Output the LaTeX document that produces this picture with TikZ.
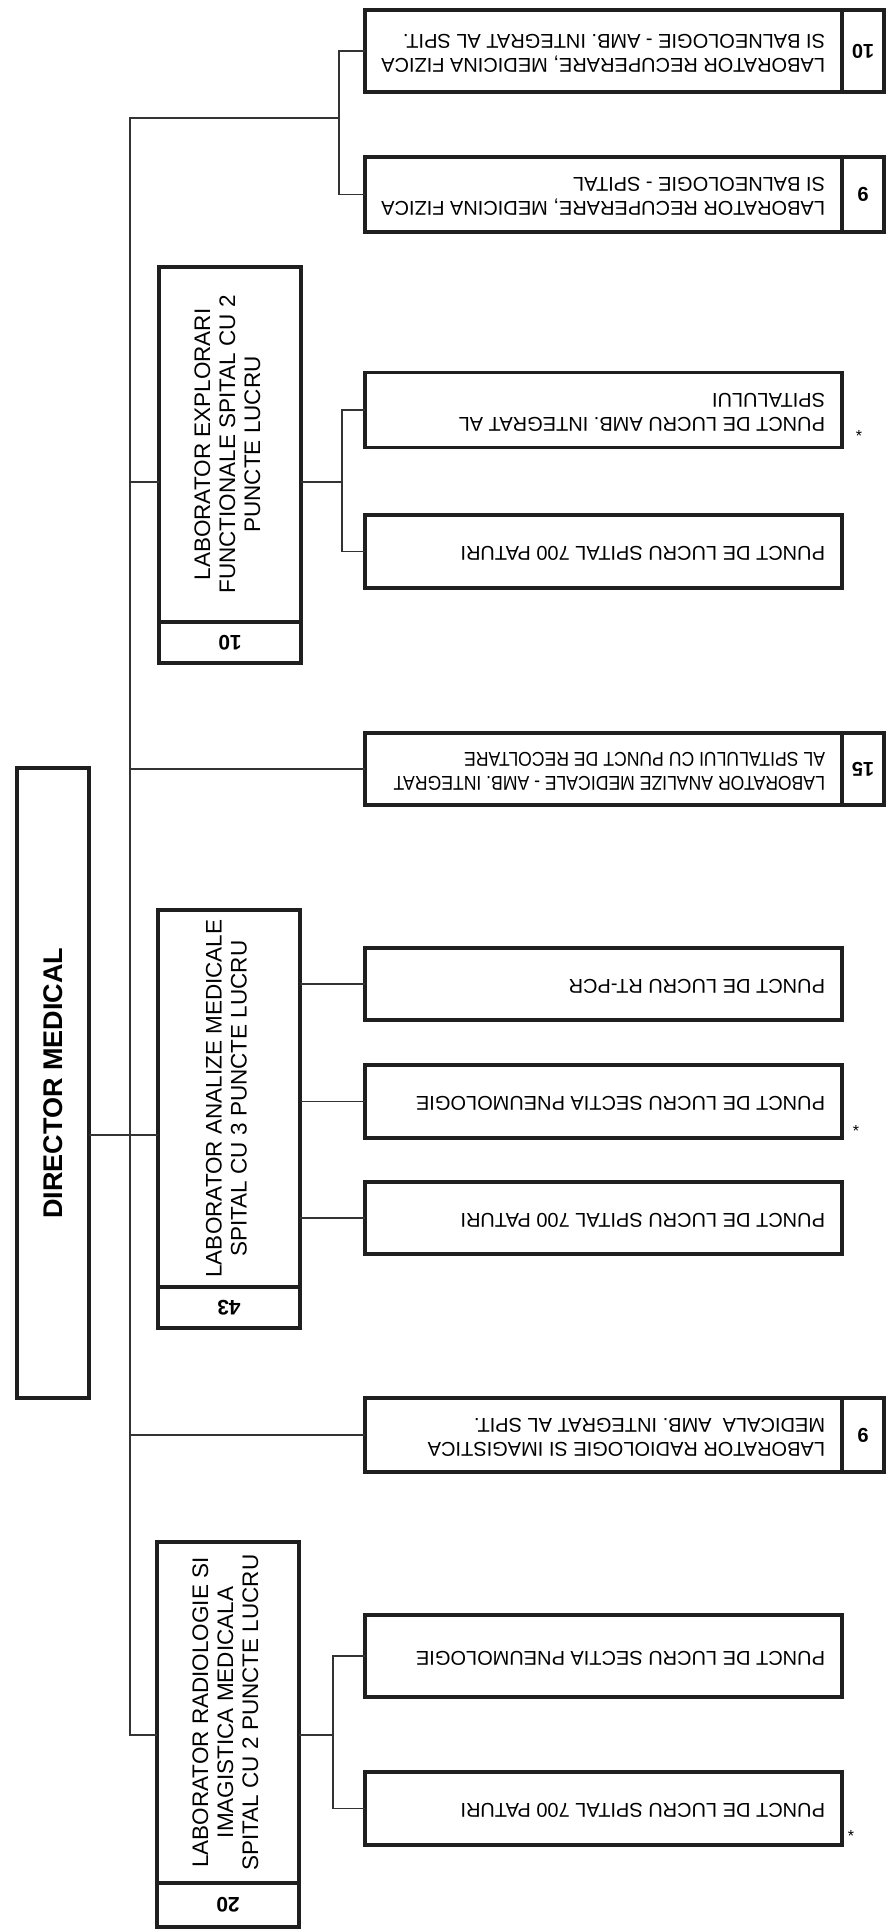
\documentclass[tikz,border=0pt]{standalone}
\usepackage{fontspec}
\setmainfont{Liberation Sans}
\usetikzlibrary{positioning}

\newcommand{\upsd}[2][1]{\rotatebox{180}{\makebox[443pt][l]{\scalebox{#1}[1]{\begin{tabular}{@{}l@{}}#2\end{tabular}}}}}
\newcommand{\uplab}[1]{\rotatebox{90}{\begin{tabular}{@{}c@{}}#1\end{tabular}}}

\begin{document}
\begin{tikzpicture}[x=1pt, y=-1pt]
\tikzset{
    unitbox/.style={rectangle, draw=black!88, line width=3.2pt, inner sep=0pt, outer sep=0pt, minimum width=477pt, minimum height=74pt, font=\fontsize{20}{24}\selectfont},
    nrbox/.style={rectangle, draw=black!88, line width=3.2pt, inner sep=0pt, outer sep=0pt, minimum width=42pt, minimum height=74pt, font=\bfseries\fontsize{20}{24}\selectfont},
    labbox/.style={rectangle, draw=black!88, line width=3.2pt, inner sep=0pt, outer sep=0pt, minimum width=142pt, font=\fontsize{22.5}{25}\selectfont},
    labnr/.style={labbox, minimum height=41pt, font=\bfseries\fontsize{21}{24}\selectfont},
    dirbox/.style={rectangle, draw=black!88, line width=3.2pt, inner sep=0pt, outer sep=0pt, minimum width=72pt, minimum height=630pt, font=\bfseries\fontsize{27}{30}\selectfont},
    link/.style={draw=black!80, line width=1.4pt},
    starmark/.style={inner sep=0pt, font=\fontsize{16}{16}\selectfont}
}
\useasboundingbox (0,0) rectangle (886,1931);

% director
\node[dirbox] (dir) at (53,1083) {\rotatebox{90}{DIRECTOR MEDICAL}};

% laboratoare cu puncte de lucru
\node[labbox, minimum height=355pt] (expl) at (230,444.5) {\uplab{LABORATOR EXPLORARI\\FUNCTIONALE SPITAL CU 2\\PUNCTE LUCRU}};
\node[labnr, below=0pt of expl] (explnr) {\rotatebox{180}{10}};
\node[labbox, minimum height=377pt] (anl) at (229,1098.5) {\uplab{LABORATOR ANALIZE MEDICALE\\SPITAL CU 3 PUNCTE LUCRU}};
\node[labnr, below=0pt of anl] (anlnr) {\rotatebox{180}{43}};
\node[labbox, minimum height=341pt] (rad) at (228,1712.5) {\uplab{LABORATOR RADIOLOGIE SI\\IMAGISTICA MEDICALA\\SPITAL CU 2 PUNCTE LUCRU}};
\node[labnr, minimum height=44pt, below=0pt of rad] (radnr) {\rotatebox{180}{20}};

% recuperare
\node[unitbox, minimum height=82pt] (rec1) at (603.5,51) {\upsd{LABORATOR RECUPERARE, MEDICINA FIZICA\\SI BALNEOLOGIE - AMB. INTEGRAT AL SPIT.}};
\node[nrbox, minimum height=82pt, right=0pt of rec1] (rec1nr) {\rotatebox{180}{10}};
\node[unitbox, minimum height=75pt] (rec2) at (603.5,194.5) {\upsd{LABORATOR RECUPERARE, MEDICINA FIZICA\\SI BALNEOLOGIE - SPITAL}};
\node[nrbox, minimum height=75pt, right=0pt of rec2] (rec2nr) {\rotatebox{180}{9}};

% explorari functionale
\node[unitbox, minimum height=75pt] (expl1) at (603.5,410) {\upsd{PUNCT DE LUCRU AMB. INTEGRAT AL\\SPITALULUI}};
\node[starmark] (star1) at (859,436) {*};
\node[unitbox, minimum height=73pt] (expl2) at (603.5,551.5) {\upsd{PUNCT DE LUCRU SPITAL 700 PATURI}};

% analize medicale
\node[unitbox, minimum height=72pt] (anl15) at (603.5,769) {\upsd[0.88]{LABORATOR ANALIZE MEDICALE - AMB. INTEGRAT\\AL SPITALULUI CU PUNCT DE RECOLTARE}};
\node[nrbox, minimum height=72pt, right=0pt of anl15] (anl15nr) {\rotatebox{180}{15}};
\node[unitbox, minimum height=72pt] (anl1) at (603.5,984) {\upsd{PUNCT DE LUCRU RT-PCR}};
\node[unitbox, minimum height=73pt] (anl2) at (603.5,1101.5) {\upsd{PUNCT DE LUCRU SECTIA PNEUMOLOGIE}};
\node[starmark] (star2) at (856,1131) {*};
\node[unitbox, minimum height=72pt] (anl3) at (603.5,1218) {\upsd{PUNCT DE LUCRU SPITAL 700 PATURI}};

% radiologie
\node[unitbox, minimum height=74pt] (rad9) at (603.5,1435) {\upsd{LABORATOR RADIOLOGIE SI IMAGISTICA\\MEDICALA\ \ AMB. INTEGRAT AL SPIT.}};
\node[nrbox, minimum height=74pt, right=0pt of rad9] (rad9nr) {\rotatebox{180}{9}};
\node[unitbox, minimum height=82pt] (rad1) at (603.5,1656) {\upsd{PUNCT DE LUCRU SECTIA PNEUMOLOGIE}};
\node[unitbox, minimum height=73pt] (rad2) at (603.5,1808.5) {\upsd{PUNCT DE LUCRU SPITAL 700 PATURI}};
\node[starmark] (star3) at (851,1836) {*};

% legaturi
\coordinate (bustop) at (130,118);
\coordinate (recj) at (339,118);
\coordinate (explj) at (342,482);
\coordinate (radj) at (333,1735);
\draw[link] (recj) -- (bustop) -- (bustop |- 0,1735) -- (rad.west |- 0,1735);
\draw[link] (rec1.west) -| (recj) |- (rec2.west);
\draw[link] (bustop |- 0,482) -- (expl.west |- 0,482);
\draw[link] (expl.east |- 0,482) -- (explj);
\draw[link] (expl1.west) -| (explj) |- (expl2.west);
\draw[link] (bustop |- anl15.west) -- (anl15.west);
\draw[link] (dir.east |- 0,1135) -- (anl.west |- 0,1135);
\draw[link] (anl.east |- anl1.west) -- (anl1.west);
\draw[link] (anl.east |- anl2.west) -- (anl2.west);
\draw[link] (anl.east |- anl3.west) -- (anl3.west);
\draw[link] (bustop |- rad9.west) -- (rad9.west);
\draw[link] (rad.east |- 0,1735) -- (radj);
\draw[link] (rad1.west) -| (radj) |- (rad2.west);
\end{tikzpicture}
\end{document}
